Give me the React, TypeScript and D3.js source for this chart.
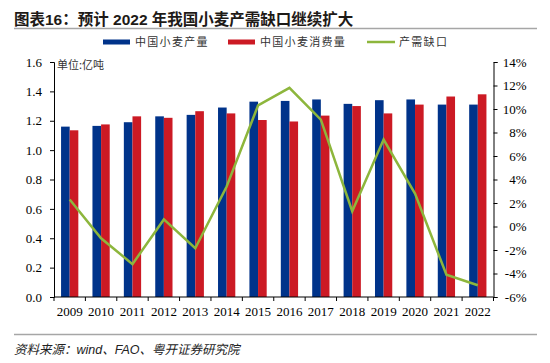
import React, { useEffect, useRef } from 'react';
import * as d3 from 'd3';

const years = ['2009', '2010', '2011', '2012', '2013', '2014', '2015', '2016', '2017', '2018', '2019', '2020', '2021', '2022'];
const production = [1.16, 1.165, 1.19, 1.23, 1.24, 1.29, 1.33, 1.335, 1.345, 1.315, 1.34, 1.345, 1.31, 1.31];
const consumption = [1.135, 1.175, 1.23, 1.22, 1.265, 1.25, 1.205, 1.195, 1.235, 1.3, 1.25, 1.31, 1.365, 1.38];
const gap = [2.3, -1.0, -3.2, 0.6, -1.85, 3.4, 10.3, 11.8, 9.1, 1.3, 7.4, 2.8, -4.1, -5.0];
const leftTicks = [0, 0.2, 0.4, 0.6, 0.8, 1.0, 1.2, 1.4, 1.6];
const rightTicks = [-6, -4, -2, 0, 2, 4, 6, 8, 10, 12, 14];
const legendItems = ['中国小麦产量', '中国小麦消费量', '产需缺口'];

const W = 550;
const H = 363;
const BLUE = '#00338a';
const RED = '#cc1a24';
const GREEN = '#8db63c';
const serif = '"Liberation Serif", "Times New Roman", serif';
const cjk = '"Noto Sans CJK SC", sans-serif';
const sansCjk = '"Liberation Sans", "Noto Sans CJK SC", sans-serif';

const App: React.FC = () => {
  const ref = useRef<SVGSVGElement>(null);

  useEffect(() => {
    const svg = d3.select(ref.current);
    svg.selectAll('*').remove();

    const left = 54, right = 493.5, top = 62, bottom = 297;

    const x = d3.scaleBand().domain(years).range([left, right]).padding(0);
    const y = d3.scaleLinear().domain([0, 1.6]).range([bottom, top]);
    const y2 = d3.scaleLinear().domain([-6, 14]).range([bottom, top]);
    const bw = x.bandwidth() * 0.275;

    // title
    svg.append('text')
      .attr('x', 14).attr('y', 25)
      .attr('font-family', sansCjk).attr('font-weight', 'bold')
      .attr('font-size', 15.5).attr('fill', '#1e1a17')
      .text('图表16：预计 2022 年我国小麦产需缺口继续扩大');
    svg.append('line')
      .attr('x1', 14).attr('x2', 537).attr('y1', 28.5).attr('y2', 28.5)
      .attr('stroke', '#a6a6a6').attr('stroke-width', 1.5);

    // legend
    const lg = svg.append('g');
    const lx = [103, 228, 367];
    const lcol = [BLUE, RED, GREEN];
    legendItems.forEach((t, i) => {
      if (i < 2) {
        lg.append('rect').attr('x', lx[i]).attr('y', 39.5).attr('width', 27).attr('height', 5).attr('fill', lcol[i]);
      } else {
        lg.append('line').attr('x1', lx[i]).attr('x2', lx[i] + 28).attr('y1', 42).attr('y2', 42)
          .attr('stroke', GREEN).attr('stroke-width', 2.5);
      }
      lg.append('text').attr('x', lx[i] + 32).attr('y', 46)
        .attr('font-family', cjk).attr('font-size', 11).attr('letter-spacing', 1.3)
        .attr('fill', '#333').text(t);
    });

    // bars
    svg.append('g').selectAll('rect').data(production).join('rect')
      .attr('x', (d, i) => x(years[i])! + x.bandwidth() / 2 - bw)
      .attr('y', d => y(d)).attr('width', bw).attr('height', d => bottom - y(d))
      .attr('fill', BLUE);
    svg.append('g').selectAll('rect').data(consumption).join('rect')
      .attr('x', (d, i) => x(years[i])! + x.bandwidth() / 2)
      .attr('y', d => y(d)).attr('width', bw).attr('height', d => bottom - y(d))
      .attr('fill', RED);

    // line
    const line = d3.line<number>()
      .x((d, i) => x(years[i])! + x.bandwidth() / 2)
      .y(d => y2(d));
    svg.append('path').datum(gap)
      .attr('d', line).attr('fill', 'none')
      .attr('stroke', GREEN).attr('stroke-width', 2.5).attr('stroke-linejoin', 'miter');

    // left axis
    const la = svg.append('g').attr('transform', `translate(${left},0)`)
      .call(d3.axisLeft(y).tickValues(leftTicks).tickFormat(d3.format('.1f')).tickSize(4).tickPadding(8));
    // right axis
    const ra = svg.append('g').attr('transform', `translate(${right},0)`)
      .call(d3.axisRight(y2).tickValues(rightTicks).tickFormat(d => `${d}%`).tickSize(4).tickPadding(4));
    ra.selectAll('text').attr('text-anchor', 'end').attr('x', 33);
    // bottom axis
    const ba = svg.append('g').attr('transform', `translate(0,${bottom})`)
      .call(d3.axisBottom(x).tickSize(0).tickPadding(10));
    ba.append('g').selectAll('line').data(d3.range(years.length + 1)).join('line')
      .attr('x1', i => left + i * x.step()).attr('x2', i => left + i * x.step())
      .attr('y1', 0).attr('y2', 4).attr('stroke', '#000');

    [la, ra, ba].forEach(g => {
      g.select('.domain').attr('stroke', '#000').attr('stroke-width', 1);
      g.selectAll('.tick line').attr('stroke', '#000');
      g.selectAll('text').attr('font-family', serif).attr('font-size', 13).attr('fill', '#000');
    });
    ba.select('.domain').attr('d', `M${left},0H${right}`);

    svg.append('text')
      .attr('x', 57).attr('y', 69)
      .attr('font-family', cjk).attr('font-size', 11).attr('fill', '#333')
      .text('单位:亿吨');

    // source
    svg.append('line')
      .attr('x1', 14).attr('x2', 537).attr('y1', 334.5).attr('y2', 334.5)
      .attr('stroke', '#a6a6a6').attr('stroke-width', 1.5);
    svg.append('text')
      .attr('x', 14).attr('y', 354)
      .attr('font-family', sansCjk).attr('font-style', 'italic')
      .attr('font-size', 12.5).attr('fill', '#222')
      .text('资料来源：wind、FAO、粤开证券研究院');
  }, []);

  return (
    <svg ref={ref} width={W} height={H}
      style={{ position: 'absolute', left: 0, top: 0, background: '#fff' }} />
  );
};

export default App;
